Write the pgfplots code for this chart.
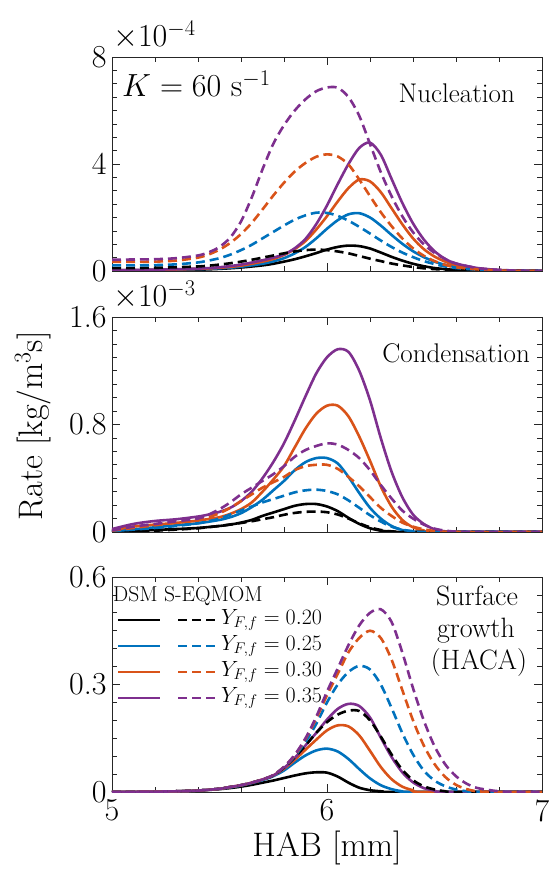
\RequirePackage{fix-cm}
\documentclass[border=0pt]{standalone}
\usepackage{pgfplots}
\pgfplotsset{compat=1.18}
\definecolor{mblue}{rgb}{0,0.447,0.741}
\definecolor{morange}{rgb}{0.85,0.325,0.098}
\definecolor{mpurple}{rgb}{0.494,0.184,0.556}
\definecolor{axgray}{rgb}{0.15,0.15,0.15}
\tikzset{
  S/.style={line width=2.6pt, smooth, tension=0.5, solid, color=#1},
  D/.style={line width=2.6pt, smooth, tension=0.5, dash pattern=on 9pt off 5pt, color=#1},
}
\pgfplotsset{
  panel/.style={scale only axis, width=430pt, xmin=5, xmax=7, xtick={5,6,7},
    minor x tick num=4, tick align=inside, tick pos=both,
    major tick length=8pt, minor tick length=5pt,
    axis line style={axgray, line width=0.7pt},
    every tick/.style={axgray, line width=0.7pt},
    ticklabel style={font=\fontsize{32}{32}\selectfont},
    yticklabel style={xshift=-2pt},
    xticklabel style={yshift=-4pt},
    clip=true},
}
\begin{document}
\begin{tikzpicture}[x=1pt,y=1pt]
\path[use as bounding box] (0,0) rectangle (550,879);
% ---------------- Panel 1: Nucleation (x1e-4)
\begin{axis}[panel, at={(112pt,608pt)}, anchor=south west, height=214pt,
  ymin=0, ymax=8, ytick={0,4,8}, yticklabels={0,4,8}, minor y tick num=7, xticklabels={}]
\addplot[S=black] coordinates {(5.0,0.02) (5.2,0.03) (5.4,0.05) (5.5,0.08) (5.6,0.13) (5.7,0.21) (5.75,0.27) (5.8,0.35) (5.85,0.44) (5.9,0.55) (5.95,0.67) (6.0,0.8) (6.05,0.9) (6.1,0.95) (6.15,0.93) (6.2,0.84) (6.25,0.69) (6.3,0.53) (6.35,0.39) (6.4,0.27) (6.45,0.18) (6.5,0.11) (6.55,0.07) (6.6,0.04) (6.7,0.015) (6.8,0.005) (7.0,0.0)};
\addplot[S=mblue] coordinates {(5.0,0.03) (5.2,0.04) (5.4,0.07) (5.5,0.1) (5.6,0.16) (5.7,0.27) (5.75,0.36) (5.8,0.48) (5.85,0.66) (5.9,0.9) (5.95,1.22) (6.0,1.58) (6.05,1.9) (6.1,2.12) (6.15,2.16) (6.2,2.0) (6.25,1.7) (6.3,1.35) (6.35,1.02) (6.4,0.74) (6.45,0.52) (6.5,0.35) (6.55,0.23) (6.6,0.15) (6.7,0.06) (6.8,0.02) (6.9,0.005) (7.0,0.0)};
\addplot[S=morange] coordinates {(5.0,0.03) (5.2,0.04) (5.4,0.08) (5.5,0.12) (5.6,0.2) (5.7,0.35) (5.75,0.45) (5.8,0.6) (5.85,0.82) (5.9,1.12) (5.95,1.55) (6.0,2.05) (6.05,2.6) (6.1,3.1) (6.15,3.42) (6.2,3.35) (6.25,2.95) (6.3,2.35) (6.35,1.75) (6.4,1.22) (6.45,0.82) (6.5,0.54) (6.55,0.35) (6.6,0.22) (6.7,0.09) (6.8,0.03) (6.9,0.01) (7.0,0.0)};
\addplot[S=mpurple] coordinates {(5.0,0.03) (5.2,0.05) (5.4,0.09) (5.5,0.14) (5.6,0.24) (5.7,0.4) (5.75,0.5) (5.8,0.62) (5.85,0.85) (5.9,1.2) (5.95,1.75) (6.0,2.45) (6.05,3.25) (6.1,4.0) (6.15,4.6) (6.2,4.8) (6.25,4.35) (6.3,3.45) (6.35,2.55) (6.4,1.78) (6.45,1.18) (6.5,0.74) (6.55,0.45) (6.6,0.28) (6.7,0.11) (6.8,0.04) (6.9,0.015) (7.0,0.0)};
\addplot[D=black] coordinates {(5.0,0.11) (5.1,0.11) (5.2,0.12) (5.3,0.14) (5.4,0.17) (5.45,0.2) (5.5,0.24) (5.55,0.29) (5.6,0.35) (5.65,0.42) (5.7,0.5) (5.75,0.58) (5.8,0.66) (5.85,0.73) (5.9,0.78) (5.95,0.8) (6.0,0.78) (6.05,0.73) (6.1,0.66) (6.15,0.56) (6.2,0.46) (6.25,0.37) (6.3,0.28) (6.35,0.21) (6.4,0.15) (6.45,0.1) (6.5,0.07) (6.55,0.05) (6.6,0.03) (6.7,0.015) (6.8,0.005) (7.0,0.0)};
\addplot[D=mblue] coordinates {(5.0,0.21) (5.1,0.21) (5.2,0.22) (5.3,0.25) (5.4,0.32) (5.45,0.39) (5.5,0.48) (5.55,0.61) (5.6,0.78) (5.65,0.98) (5.7,1.22) (5.75,1.46) (5.8,1.7) (5.85,1.92) (5.9,2.08) (5.95,2.18) (6.0,2.17) (6.05,2.06) (6.1,1.88) (6.15,1.65) (6.2,1.4) (6.25,1.14) (6.3,0.9) (6.35,0.69) (6.4,0.52) (6.45,0.37) (6.5,0.26) (6.55,0.17) (6.6,0.11) (6.7,0.05) (6.8,0.02) (6.9,0.005) (7.0,0.0)};
\addplot[D=morange] coordinates {(5.0,0.34) (5.1,0.34) (5.2,0.35) (5.3,0.39) (5.4,0.5) (5.45,0.62) (5.5,0.8) (5.55,1.05) (5.6,1.38) (5.65,1.8) (5.7,2.3) (5.75,2.82) (5.8,3.3) (5.85,3.72) (5.9,4.04) (5.95,4.27) (6.0,4.36) (6.05,4.28) (6.1,3.98) (6.15,3.42) (6.2,2.8) (6.25,2.2) (6.3,1.68) (6.35,1.22) (6.4,0.85) (6.45,0.57) (6.5,0.37) (6.55,0.23) (6.6,0.14) (6.7,0.06) (6.8,0.02) (6.9,0.005) (7.0,0.0)};
\addplot[D=mpurple] coordinates {(5.0,0.42) (5.1,0.43) (5.2,0.44) (5.3,0.48) (5.4,0.58) (5.45,0.7) (5.5,0.9) (5.55,1.25) (5.6,1.85) (5.65,2.75) (5.7,3.8) (5.75,4.75) (5.8,5.45) (5.85,6.0) (5.9,6.42) (5.95,6.72) (6.0,6.86) (6.05,6.85) (6.1,6.5) (6.15,5.8) (6.2,4.75) (6.25,3.7) (6.3,2.8) (6.35,2.05) (6.4,1.45) (6.45,1.0) (6.5,0.68) (6.55,0.45) (6.6,0.28) (6.7,0.11) (6.8,0.04) (6.9,0.01) (7.0,0.0)};
\end{axis}
% ---------------- Panel 2: Condensation (x1e-3)
\begin{axis}[panel, at={(112pt,347pt)}, anchor=south west, height=215pt,
  ymin=0, ymax=1.6, ytick={0,0.8,1.6}, yticklabels={0,0.8,1.6}, minor y tick num=7, xticklabels={}]
\addplot[S=black] coordinates {(5.0,0.0) (5.1,0.008) (5.2,0.015) (5.3,0.022) (5.4,0.03) (5.5,0.045) (5.55,0.055) (5.6,0.07) (5.65,0.09) (5.7,0.12) (5.75,0.145) (5.8,0.17) (5.85,0.195) (5.9,0.208) (5.95,0.208) (6.0,0.19) (6.05,0.155) (6.1,0.105) (6.15,0.06) (6.2,0.028) (6.25,0.01) (6.3,0.003) (6.4,0.0) (7.0,0.0)};
\addplot[S=mblue] coordinates {(5.0,0.005) (5.1,0.02) (5.2,0.035) (5.3,0.05) (5.4,0.065) (5.5,0.09) (5.55,0.11) (5.6,0.14) (5.65,0.185) (5.7,0.24) (5.75,0.31) (5.8,0.38) (5.85,0.46) (5.9,0.52) (5.95,0.55) (6.0,0.55) (6.05,0.51) (6.1,0.41) (6.15,0.29) (6.2,0.18) (6.25,0.1) (6.3,0.045) (6.35,0.015) (6.4,0.004) (6.45,0.0) (7.0,0.0)};
\addplot[S=morange] coordinates {(5.0,0.012) (5.1,0.04) (5.2,0.055) (5.3,0.068) (5.4,0.085) (5.45,0.097) (5.5,0.11) (5.55,0.135) (5.6,0.17) (5.65,0.22) (5.7,0.3) (5.75,0.39) (5.8,0.49) (5.85,0.63) (5.9,0.77) (5.95,0.88) (6.0,0.94) (6.05,0.94) (6.1,0.86) (6.15,0.71) (6.2,0.53) (6.25,0.34) (6.3,0.19) (6.35,0.09) (6.4,0.035) (6.45,0.012) (6.5,0.0) (7.0,0.0)};
\addplot[S=mpurple] coordinates {(5.0,0.022) (5.1,0.06) (5.2,0.082) (5.3,0.095) (5.4,0.115) (5.45,0.13) (5.5,0.15) (5.55,0.18) (5.6,0.23) (5.65,0.3) (5.7,0.4) (5.75,0.52) (5.8,0.66) (5.85,0.83) (5.9,1.01) (5.95,1.18) (6.0,1.3) (6.05,1.36) (6.1,1.34) (6.15,1.2) (6.2,0.98) (6.25,0.7) (6.3,0.45) (6.35,0.26) (6.4,0.13) (6.45,0.06) (6.5,0.02) (6.55,0.005) (6.6,0.0) (7.0,0.0)};
\addplot[D=black] coordinates {(5.0,0.0) (5.1,0.005) (5.2,0.01) (5.3,0.018) (5.4,0.028) (5.5,0.045) (5.55,0.056) (5.6,0.067) (5.65,0.08) (5.7,0.095) (5.75,0.11) (5.8,0.128) (5.85,0.142) (5.9,0.15) (5.95,0.152) (6.0,0.147) (6.05,0.13) (6.1,0.1) (6.15,0.065) (6.2,0.035) (6.25,0.015) (6.3,0.005) (6.4,0.0) (7.0,0.0)};
\addplot[D=mblue] coordinates {(5.0,0.005) (5.1,0.018) (5.2,0.03) (5.3,0.045) (5.4,0.065) (5.45,0.08) (5.5,0.1) (5.55,0.13) (5.6,0.16) (5.65,0.19) (5.7,0.22) (5.75,0.245) (5.8,0.27) (5.85,0.295) (5.9,0.31) (5.95,0.315) (6.0,0.305) (6.05,0.28) (6.1,0.235) (6.15,0.18) (6.2,0.125) (6.25,0.078) (6.3,0.04) (6.35,0.017) (6.4,0.006) (6.45,0.0) (7.0,0.0)};
\addplot[D=morange] coordinates {(5.0,0.01) (5.1,0.03) (5.2,0.05) (5.3,0.07) (5.4,0.09) (5.45,0.11) (5.5,0.14) (5.55,0.18) (5.6,0.23) (5.65,0.28) (5.7,0.33) (5.75,0.37) (5.8,0.41) (5.85,0.46) (5.9,0.49) (5.95,0.5) (6.0,0.5) (6.05,0.47) (6.1,0.41) (6.15,0.34) (6.2,0.26) (6.25,0.18) (6.3,0.12) (6.35,0.07) (6.4,0.04) (6.45,0.02) (6.5,0.008) (6.6,0.0) (7.0,0.0)};
\addplot[D=mpurple] coordinates {(5.0,0.012) (5.1,0.04) (5.2,0.06) (5.3,0.08) (5.4,0.1) (5.45,0.13) (5.5,0.17) (5.55,0.22) (5.6,0.28) (5.65,0.33) (5.7,0.38) (5.75,0.43) (5.8,0.49) (5.85,0.56) (5.9,0.61) (5.95,0.64) (6.0,0.66) (6.05,0.65) (6.1,0.61) (6.15,0.55) (6.2,0.46) (6.25,0.35) (6.3,0.25) (6.35,0.16) (6.4,0.1) (6.45,0.055) (6.5,0.025) (6.55,0.01) (6.6,0.003) (6.7,0.0) (7.0,0.0)};
\end{axis}
% ---------------- Panel 3: Surface growth
\begin{axis}[panel, at={(112pt,87pt)}, anchor=south west, height=215pt,
  ymin=0, ymax=0.6, ytick={0,0.3,0.6}, yticklabels={0,0.3,0.6}, xticklabels={5,6,7}, minor y tick num=5]
\addplot[S=black] coordinates {(5.0,0) (5.2,0.001) (5.3,0.002) (5.4,0.004) (5.5,0.008) (5.55,0.011) (5.6,0.015) (5.65,0.02) (5.7,0.026) (5.75,0.032) (5.8,0.039) (5.85,0.046) (5.9,0.052) (5.95,0.055) (6.0,0.054) (6.05,0.043) (6.1,0.026) (6.15,0.012) (6.2,0.005) (6.25,0.002) (6.3,0) (7.0,0)};
\addplot[S=mblue] coordinates {(5.0,0) (5.2,0.001) (5.3,0.002) (5.4,0.004) (5.5,0.009) (5.55,0.013) (5.6,0.018) (5.65,0.025) (5.7,0.033) (5.75,0.044) (5.8,0.06) (5.85,0.082) (5.9,0.102) (5.95,0.116) (6.0,0.121) (6.05,0.113) (6.1,0.092) (6.15,0.064) (6.2,0.038) (6.25,0.019) (6.3,0.008) (6.35,0.002) (6.4,0) (7.0,0)};
\addplot[S=morange] coordinates {(5.0,0) (5.2,0.001) (5.3,0.002) (5.4,0.004) (5.5,0.009) (5.55,0.014) (5.6,0.019) (5.65,0.026) (5.7,0.035) (5.75,0.046) (5.8,0.065) (5.85,0.09) (5.9,0.118) (5.95,0.146) (6.0,0.172) (6.05,0.186) (6.1,0.183) (6.15,0.158) (6.2,0.115) (6.25,0.07) (6.3,0.036) (6.35,0.015) (6.4,0.005) (6.45,0) (7.0,0)};
\addplot[S=mpurple] coordinates {(5.0,0) (5.2,0.001) (5.3,0.002) (5.4,0.004) (5.5,0.009) (5.55,0.014) (5.6,0.019) (5.65,0.026) (5.7,0.035) (5.75,0.046) (5.8,0.067) (5.85,0.095) (5.9,0.13) (5.95,0.165) (6.0,0.202) (6.05,0.232) (6.1,0.246) (6.15,0.24) (6.2,0.208) (6.25,0.152) (6.3,0.098) (6.35,0.055) (6.4,0.027) (6.45,0.011) (6.5,0.004) (6.55,0) (7.0,0)};
\addplot[D=black] coordinates {(5.0,0) (5.2,0.001) (5.3,0.002) (5.4,0.004) (5.5,0.009) (5.55,0.014) (5.6,0.019) (5.65,0.026) (5.7,0.035) (5.75,0.046) (5.8,0.068) (5.85,0.097) (5.9,0.13) (5.95,0.165) (6.0,0.195) (6.05,0.216) (6.1,0.227) (6.15,0.226) (6.2,0.2) (6.25,0.155) (6.3,0.105) (6.35,0.062) (6.4,0.033) (6.45,0.016) (6.5,0.007) (6.55,0.002) (6.6,0) (7.0,0)};
\addplot[D=mblue] coordinates {(5.0,0) (5.2,0.001) (5.3,0.002) (5.4,0.004) (5.5,0.009) (5.55,0.014) (5.6,0.019) (5.65,0.026) (5.7,0.035) (5.75,0.047) (5.8,0.07) (5.85,0.1) (5.9,0.14) (5.95,0.19) (6.0,0.25) (6.05,0.3) (6.1,0.335) (6.15,0.352) (6.2,0.342) (6.25,0.3) (6.3,0.235) (6.35,0.165) (6.4,0.105) (6.45,0.06) (6.5,0.032) (6.55,0.016) (6.6,0.007) (6.65,0.002) (6.7,0) (7.0,0)};
\addplot[D=morange] coordinates {(5.0,0) (5.2,0.001) (5.3,0.002) (5.4,0.004) (5.5,0.009) (5.55,0.014) (5.6,0.019) (5.65,0.026) (5.7,0.035) (5.75,0.047) (5.8,0.07) (5.85,0.102) (5.9,0.148) (5.95,0.205) (6.0,0.27) (6.05,0.33) (6.1,0.39) (6.15,0.43) (6.2,0.45) (6.25,0.43) (6.3,0.37) (6.35,0.285) (6.4,0.2) (6.45,0.13) (6.5,0.078) (6.55,0.042) (6.6,0.02) (6.65,0.008) (6.7,0.002) (6.8,0) (7.0,0)};
\addplot[D=mpurple] coordinates {(5.0,0) (5.2,0.001) (5.3,0.002) (5.4,0.004) (5.5,0.009) (5.55,0.014) (5.6,0.019) (5.65,0.026) (5.7,0.035) (5.75,0.047) (5.8,0.07) (5.85,0.104) (5.9,0.15) (5.95,0.21) (6.0,0.28) (6.05,0.345) (6.1,0.41) (6.15,0.465) (6.2,0.5) (6.25,0.51) (6.3,0.475) (6.35,0.39) (6.4,0.29) (6.45,0.2) (6.5,0.128) (6.55,0.077) (6.6,0.044) (6.65,0.023) (6.7,0.011) (6.8,0.002) (6.9,0) (7.0,0)};
\end{axis}
% ---------------- texts
\node[anchor=base west, font=\fontsize{32}{32}\selectfont, inner sep=0pt] at (113,832) {$\times 10^{-4}$};
\node[anchor=base west, font=\fontsize{32}{32}\selectfont, inner sep=0pt] at (113,572) {$\times 10^{-3}$};
\node[anchor=base west, font=\fontsize{32}{32}\selectfont, inner sep=0pt] at (122,782) {$K = 60~\mathrm{s}^{-1}$};
\node[anchor=base east, font=\fontsize{27}{27}\selectfont, inner sep=0pt] at (515,776) {Nucleation};
\node[anchor=base east, font=\fontsize{27}{27}\selectfont, inner sep=0pt] at (530,516) {Condensation};
\node[anchor=base, font=\fontsize{28}{28}\selectfont, inner sep=0pt] at (477,273) {Surface};
\node[anchor=base, font=\fontsize{28}{28}\selectfont, inner sep=0pt] at (476,241) {growth};
\node[anchor=base, font=\fontsize{28}{28}\selectfont, inner sep=0pt] at (479,209) {(HACA)};
\node[rotate=90, font=\fontsize{34}{34}\selectfont, inner sep=0pt] at (33,453) {Rate [kg/m$^3$s]};
\node[font=\fontsize{34}{34}\selectfont, inner sep=0pt] at (327,31) {HAB [mm]};
% legend
\node[anchor=base west, font=\fontsize{21.5}{21.5}\selectfont, inner sep=0pt] at (113,277) {DSM S-EQMOM};
\draw[line width=2.6pt, black] (118,259) -- (160,259);
\draw[line width=2.6pt, black, dash pattern=on 9pt off 5pt] (178,259) -- (218,259);
\node[anchor=west, font=\fontsize{22}{22}\selectfont, inner sep=0pt] at (221,259) {$Y_{F,f} = 0.20$};
\draw[line width=2.6pt, mblue] (118,233) -- (160,233);
\draw[line width=2.6pt, mblue, dash pattern=on 9pt off 5pt] (178,233) -- (218,233);
\node[anchor=west, font=\fontsize{22}{22}\selectfont, inner sep=0pt] at (221,233) {$Y_{F,f} = 0.25$};
\draw[line width=2.6pt, morange] (118,207) -- (160,207);
\draw[line width=2.6pt, morange, dash pattern=on 9pt off 5pt] (178,207) -- (218,207);
\node[anchor=west, font=\fontsize{22}{22}\selectfont, inner sep=0pt] at (221,207) {$Y_{F,f} = 0.30$};
\draw[line width=2.6pt, mpurple] (118,181) -- (160,181);
\draw[line width=2.6pt, mpurple, dash pattern=on 9pt off 5pt] (178,181) -- (218,181);
\node[anchor=west, font=\fontsize{22}{22}\selectfont, inner sep=0pt] at (221,181) {$Y_{F,f} = 0.35$};
\end{tikzpicture}
\end{document}
